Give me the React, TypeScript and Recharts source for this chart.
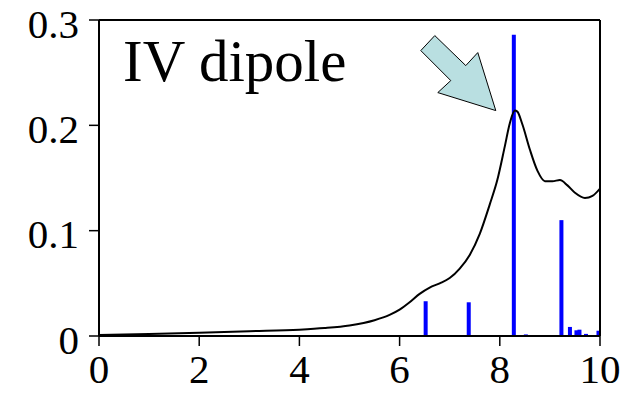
import {
  Bar,
  ComposedChart,
  Line,
  ReferenceDot,
  XAxis,
  YAxis,
} from 'recharts'

// Broadened absorption curve (energy, intensity)
const curveX = [0, 1, 2, 3, 4, 4.5, 5, 5.5, 5.8, 6.0, 6.2, 6.4, 6.6, 6.8, 7.0, 7.2, 7.4, 7.6, 7.8, 7.95, 8.1, 8.2, 8.3, 8.35, 8.45, 8.6, 8.75, 8.9, 9.05, 9.2, 9.35, 9.5, 9.7, 9.85, 10]
const curveY = [0.001, 0.0018, 0.003, 0.0045, 0.006, 0.0075, 0.01, 0.015, 0.02, 0.025, 0.032, 0.04, 0.046, 0.05, 0.055, 0.064, 0.077, 0.097, 0.125, 0.148, 0.18, 0.202, 0.214, 0.213, 0.201, 0.177, 0.157, 0.147, 0.147, 0.148, 0.143, 0.136, 0.131, 0.133, 0.14]

// Oscillator strengths (stick spectrum)
const stickX = [6.52, 7.38, 8.28, 8.52, 9.23, 9.4, 9.53, 9.59, 9.72, 9.97]
const stickY = [0.033, 0.032, 0.286, 0.0015, 0.11, 0.0086, 0.0054, 0.006, 0.002, 0.005]

const xTicks = [0, 2, 4, 6, 8, 10]
const yTicks = [0, 0.1, 0.2, 0.3]

const arrowTip = { x: 7.92, y: 0.214 }

const data = [
  ...curveX.map((x, i) => ({ x, abs: curveY[i] })),
  ...stickX.map((x, i) => ({ x, osc: stickY[i] })),
].sort((a, b) => a.x - b.x)

const font = '"Liberation Serif", "Times New Roman", serif'
const tickStyle = { fontFamily: font, fontSize: 41, fill: '#000' }
const axisLine = { stroke: '#000', strokeWidth: 2 }
const tickLine = { stroke: '#000', strokeWidth: 1.5 }

const YTick = ({ x, y, payload }: any) => (
  <text x={x} y={y + 3} dy='0.355em' textAnchor='end' {...tickStyle}>
    {String(payload.value)}
  </text>
)

// fixed-width stick centred on its energy
const Stick = ({ x, y, width, height, fill }: any) => {
  if (!height || height <= 0) return null
  return <rect x={x + width / 2 - 2} y={y} width={4} height={height} fill={fill} />
}

// block arrow pointing down-right, drawn relative to its tip
const Arrow = ({ cx, cy }: { cx?: number; cy?: number }) => {
  if (cx == null || cy == null) return null
  const pts = [
    [-61, -75],
    [-30, -45],
    [-18, -58],
    [0, 0],
    [-58, -18],
    [-45, -30],
    [-75, -60],
  ]
  return (
    <polygon
      points={pts.map(([dx, dy]) => `${cx + dx},${cy + dy}`).join(' ')}
      fill='#b9dfe1'
      stroke='#000'
      strokeWidth={1}
    />
  )
}

export default function App() {
  return (
    <div style={{ position: 'absolute', left: 0, top: 0, width: 623, height: 393, background: '#fff' }}>
      <ComposedChart
        width={623}
        height={393}
        data={data}
        margin={{ top: 0, right: 0, bottom: 0, left: 0 }}
      >
        <XAxis
          dataKey='x'
          type='number'
          domain={[0, 10]}
          ticks={xTicks}
          height={57}
          tickSize={10}
          tickMargin={8}
          axisLine={axisLine}
          tickLine={tickLine}
          tick={tickStyle}
          allowDataOverflow
          interval={0}
        />
        <XAxis
          xAxisId='top'
          orientation='top'
          dataKey='x'
          type='number'
          domain={[0, 10]}
          ticks={xTicks}
          height={20}
          tickSize={10}
          axisLine={axisLine}
          tickLine={tickLine}
          tick={false}
        />
        <YAxis
          type='number'
          domain={[0, 0.3]}
          ticks={yTicks}
          width={99}
          tickSize={10}
          tickMargin={10}
          axisLine={axisLine}
          tickLine={tickLine}
          tick={<YTick />}
          allowDataOverflow
          interval={0}
        />
        <YAxis
          yAxisId='right'
          orientation='right'
          type='number'
          domain={[0, 0.3]}
          ticks={yTicks}
          width={23}
          tickSize={10}
          axisLine={axisLine}
          tickLine={tickLine}
          tick={false}
        />
        <Bar dataKey='osc' fill='#0000ff' shape={<Stick />} isAnimationActive={false} />
        <Line
          dataKey='abs'
          type='monotone'
          stroke='#000'
          strokeWidth={2}
          dot={false}
          connectNulls
          isAnimationActive={false}
        />
        <ReferenceDot x={arrowTip.x} y={arrowTip.y} r={0} shape={(p: any) => <Arrow cx={p.cx} cy={p.cy} />} />
      </ComposedChart>
      <svg width={623} height={393} style={{ position: 'absolute', left: 0, top: 0, pointerEvents: 'none' }}>
        <text x={123} y={81} fontFamily={font} fontSize={59} fill='#000'>
          IV dipole
        </text>
      </svg>
    </div>
  )
}
